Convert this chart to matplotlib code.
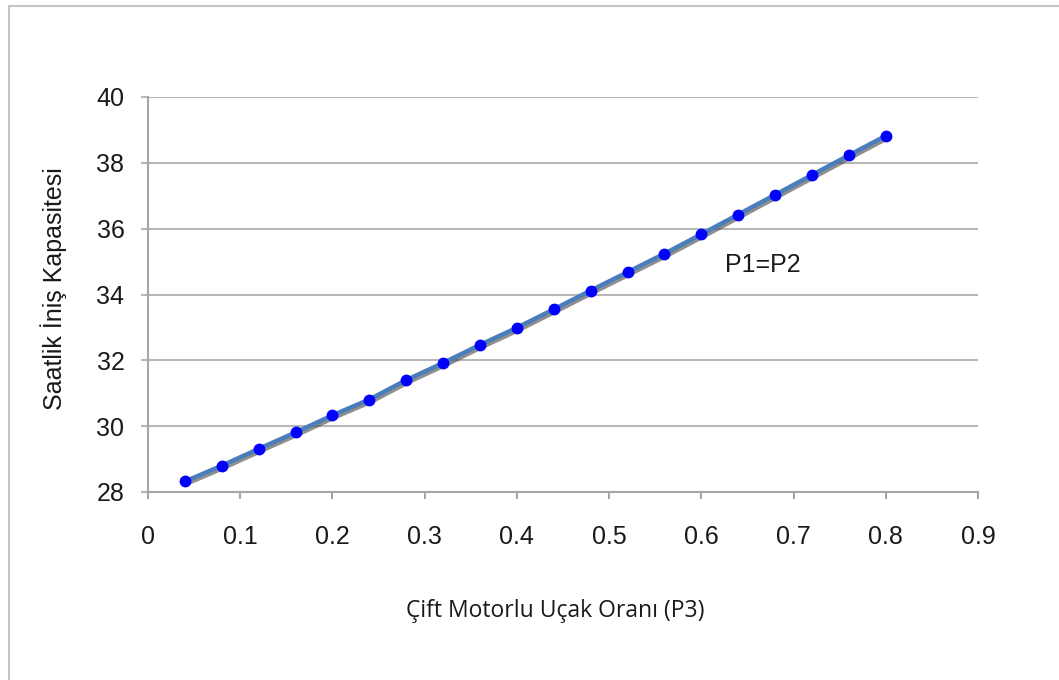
import numpy as np
import matplotlib
matplotlib.use('Agg')
from matplotlib import pyplot as plt
import matplotlib.patheffects as pe
from matplotlib.lines import Line2D

# Ratio of twin-engine aircraft (P3) vs hourly landing capacity
p3_ratio = [0.04, 0.08, 0.12, 0.16, 0.20, 0.24, 0.28, 0.32, 0.36, 0.40,
            0.44, 0.48, 0.52, 0.56, 0.60, 0.64, 0.68, 0.72, 0.76, 0.80]
capacity = [28.32, 28.80, 29.31, 29.81, 30.33, 30.81, 31.40, 31.92, 32.47, 32.99,
            33.55, 34.12, 34.68, 35.24, 35.83, 36.43, 37.03, 37.63, 38.23, 38.82]

x_ticks = [0, 0.1, 0.2, 0.3, 0.4, 0.5, 0.6, 0.7, 0.8, 0.9]
x_tick_labels = ['0', '0.1', '0.2', '0.3', '0.4', '0.5', '0.6', '0.7', '0.8', '0.9']
y_ticks = [28, 30, 32, 34, 36, 38, 40]

series_label = 'P1=P2'
x_title = 'Çift Motorlu Uçak Oranı (P3)'
y_title = 'Saatlik İniş Kapasitesi'

plt.rcParams['font.family'] = ['Liberation Sans', 'DejaVu Sans']

fig = plt.figure(figsize=(10.59, 6.80), dpi=100)
ax = fig.add_axes([148/1059, 1-492/680, (978-148)/1059, (492-97)/680])

grid_col = '#b8b8b8'
axis_col = '#a6a6a6'

ax.plot(p3_ratio, capacity, '-', color='#4a7ebb', lw=3.2, zorder=3,
        path_effects=[pe.SimpleLineShadow(offset=(1.5, -1.5), shadow_color='#444444', alpha=0.6),
                      pe.Normal()])
ax.plot(p3_ratio, capacity, 'o', color='#0000ff', ms=7.5, mec='#0000ff', zorder=4, clip_on=False)

ax.set_xlim(0, 0.9)
ax.set_ylim(28, 40)
ax.set_xticks(x_ticks)
ax.set_xticklabels(x_tick_labels)
ax.set_yticks(y_ticks)

ax.yaxis.grid(True, color=grid_col, lw=1.5)
ax.set_axisbelow(True)
for s in ['top', 'right']:
    ax.spines[s].set_visible(False)
for s in ['left', 'bottom']:
    ax.spines[s].set_color(axis_col)
    ax.spines[s].set_linewidth(1.5)

ax.tick_params(axis='x', direction='out', length=5, width=1.5, color=axis_col,
               labelsize=18, pad=19, labelcolor='#1a1a1a')
ax.tick_params(axis='y', direction='out', length=5, width=1.5, color=grid_col,
               labelsize=18, pad=12, labelcolor='#1a1a1a')

ax.text(0.626, 34.89, series_label, fontsize=18, color='#1a1a1a', va='center', ha='left')

fig.text(555/1059, 1-611/680, x_title, fontsize=16.5, family=['Open Sans', 'DejaVu Sans'],
         color='#1a1a1a', ha='center', va='center')
fig.text(54/1059, 1-289/680, y_title, fontsize=18, color='#1a1a1a', rotation=90,
         ha='center', va='center')

# outer frame of the chart area (only top and left edges visible)
fig.add_artist(Line2D([9/1059, 9/1059], [0, 1-5.5/680], transform=fig.transFigure,
                      color='#c4c4c4', lw=1.5))
fig.add_artist(Line2D([9/1059, 1], [1-5.5/680, 1-5.5/680], transform=fig.transFigure,
                      color='#c4c4c4', lw=1.5))

fig.savefig('out.png', dpi=100)
